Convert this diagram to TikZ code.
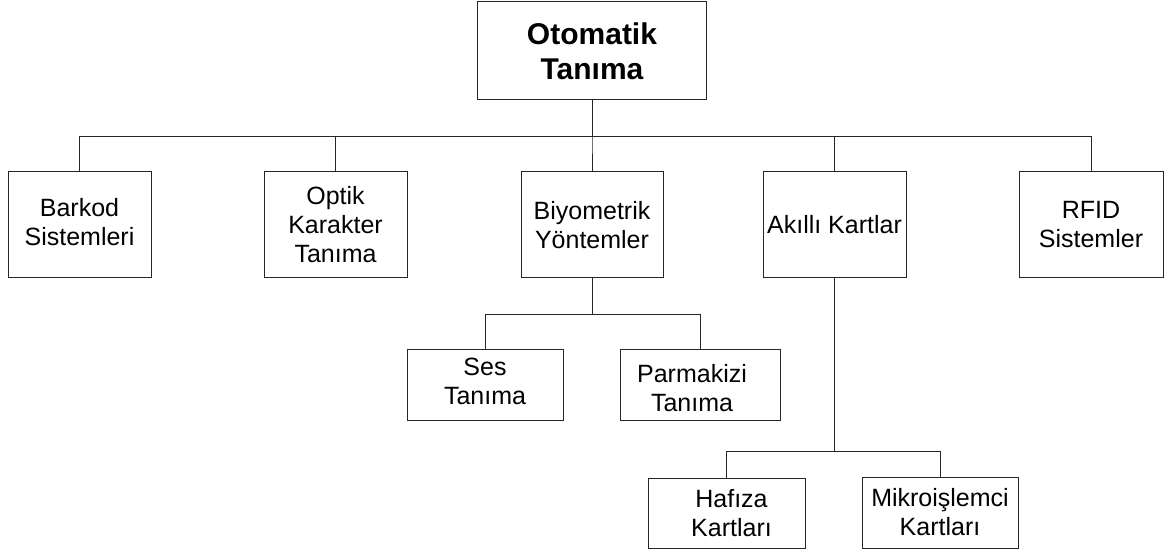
\documentclass[tikz,border=0pt]{standalone}
\usepackage{fontspec}
\setmainfont{Liberation Sans}
\begin{document}
\begin{tikzpicture}[x=1pt,y=-1pt,
  line width=1pt,
  boxtext/.style={align=center, inner sep=0pt, font=\fontsize{25}{29}\selectfont},
  box/.style={draw=black!85, line width=1pt, boxtext},
  topbox/.style={box, font=\fontsize{30}{35}\selectfont\bfseries},
  link/.style={draw=black!85, line width=1pt}]
\useasboundingbox (0,0) rectangle (1176,556);

% top level
\node[topbox, minimum width=229pt, minimum height=98pt] (root) at (592,51) {Otomatik\\Tanıma};

% second level
\node[box, minimum width=143pt, minimum height=106pt,
  label={[boxtext, yshift=3pt]center:{Barkod\\Sistemleri}}] (barkod) at (79.5,225) {};
\node[box, minimum width=143pt, minimum height=106pt] (optik)  at (335.5,225) {Optik\\Karakter\\Tanıma};
\node[box, minimum width=142pt, minimum height=106pt] (biyo)   at (592,225) {Biyometrik\\Yöntemler};
\node[box, minimum width=143pt, minimum height=106pt] (akilli) at (834.5,225) {Akıllı Kartlar};
\node[box, minimum width=144pt, minimum height=106pt] (rfid)   at (1091,225) {RFID\\Sistemler};

% under Biyometrik
\node[box, minimum width=156pt, minimum height=71pt,
  label={[boxtext, yshift=4pt]center:{Ses\\Tanıma}}] (ses) at (485,385) {};
\node[box, minimum width=160pt, minimum height=71pt,
  label={[boxtext, xshift=-8pt, yshift=-3.5pt]center:{Parmakizi\\Tanıma}}] (parmak) at (700,385) {};

% under Akıllı Kartlar
\node[box, minimum width=157pt, minimum height=70pt,
  label={[boxtext, xshift=5pt]center:{Hafıza\\Kartları}}] (hafiza) at (726.5,513) {};
\node[box, minimum width=156pt, minimum height=71pt] (mikro) at (940,512.5) {Mikroişlemci\\Kartları};

% bus levels
\coordinate (busA) at (0,137);
\coordinate (busB) at (0,314);
\coordinate (busC) at (0,451);

% connectors
\foreach \c in {barkod,optik,biyo,akilli,rfid}
  \draw[link] (root.south) -- (root.south |- busA) -| (\c.north);
\foreach \c in {ses,parmak}
  \draw[link] (biyo.south) -- (biyo.south |- busB) -| (\c.north);
\foreach \c in {hafiza,mikro}
  \draw[link] (akilli.south) -- (akilli.south |- busC) -| (\c.north);
\end{tikzpicture}
\end{document}
